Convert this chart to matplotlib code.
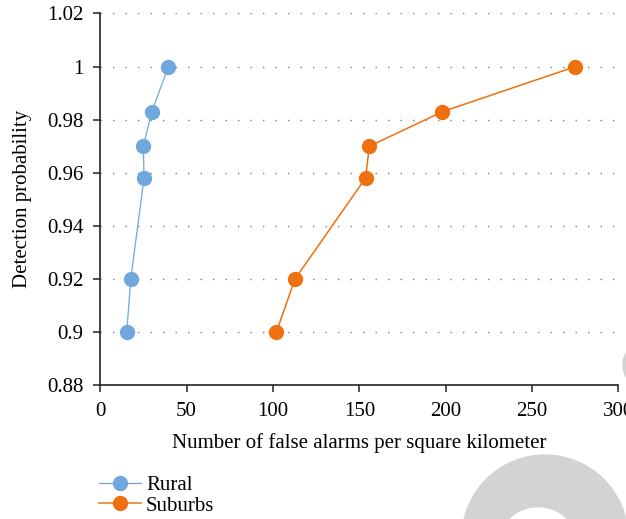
import matplotlib
matplotlib.use('Agg')
import matplotlib.pyplot as plt
from matplotlib.patches import Circle
from matplotlib.transforms import IdentityTransform

plt.rcParams['font.family'] = ['Liberation Serif', 'DejaVu Serif']

rural_x = [15.4, 17.7, 25.4, 25.0, 29.9, 39.5]
rural_y = [0.90, 0.92, 0.958, 0.970, 0.983, 1.00]
suburbs_x = [102.0, 112.8, 153.6, 155.8, 198.1, 275.1]
suburbs_y = [0.90, 0.92, 0.958, 0.970, 0.983, 1.00]

yticks = [0.88, 0.9, 0.92, 0.94, 0.96, 0.98, 1.0, 1.02]
ytick_labels = ['0.88', '0.9', '0.92', '0.94', '0.96', '0.98', '1', '1.02']
xticks = [0, 50, 100, 150, 200, 250, 300]

fig = plt.figure(figsize=(6.26, 5.19), dpi=100)

# watermark shapes (drawn first, behind everything)
pix = IdentityTransform()
fig.patches.append(Circle((545, -19), 83, color='#d3d3d3', transform=pix, zorder=0))
fig.patches.append(Circle((538, -29), 40, color='white', transform=pix, zorder=0))
fig.patches.append(Circle((648, 154), 25, color='#d3d3d3', transform=pix, zorder=0))

ax = fig.add_axes([0.16, 0.258, 0.828, 0.716])
ax.patch.set_alpha(0)

ax.plot(rural_x, rural_y, color='#6fa8dc', lw=0.9, marker='o', ms=10, label='Rural', zorder=3)
ax.plot(suburbs_x, suburbs_y, color='#f07010', lw=1.1, marker='o', ms=10, label='Suburbs', zorder=3)

ax.set_xlim(0, 300)
ax.set_ylim(0.88, 1.02)
ax.set_xticks(xticks)
ax.set_yticks(yticks)
ax.set_yticklabels(ytick_labels)
ax.tick_params(labelsize=15, direction='out', length=5, width=1.1, color='#222222')
ax.tick_params(axis='y', pad=7)
ax.tick_params(axis='x', pad=7)
for s in ['top', 'right']:
    ax.spines[s].set_visible(False)
for s in ['left', 'bottom']:
    ax.spines[s].set_linewidth(1.2)
    ax.spines[s].set_color('#222222')
ax.yaxis.grid(True, color='#808080', lw=1.0, linestyle=(0, (1, 8)))
ax.set_axisbelow(True)

ax.set_xlabel('Number of false alarms per square kilometer', fontsize=15, labelpad=9)
ax.set_ylabel('Detection probability', fontsize=15, labelpad=11)

leg = fig.legend(loc='upper left', bbox_to_anchor=(0.145, 0.1), frameon=False,
                 fontsize=15, handlelength=2.0, handletextpad=0.25, labelspacing=0.05,
                 borderaxespad=0)

fig.savefig('out.png', dpi=100)
